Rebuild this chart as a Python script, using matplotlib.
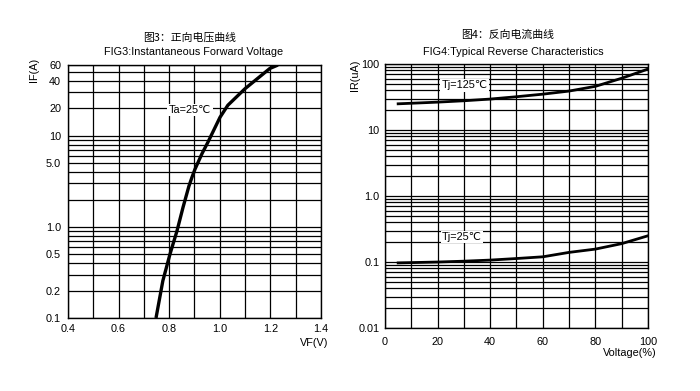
import numpy as np
import matplotlib
matplotlib.use("Agg")
import matplotlib.pyplot as plt
from matplotlib.ticker import FixedLocator, NullFormatter

plt.rcParams['font.family'] = ['Liberation Sans', 'DejaVu Sans', 'Noto Sans CJK SC']
plt.rcParams['font.size'] = 7.8

# FIG3 forward voltage data
vf = [0.748, 0.775, 0.803, 0.831, 0.855, 0.878, 0.890, 0.902, 0.930, 0.953,
      1.001, 1.032, 1.100, 1.198, 1.230]
i_f = [0.1, 0.256, 0.5, 0.906, 1.65, 2.8, 3.5, 4.3, 6.4, 8.5,
       16, 21.7, 33, 55, 60]
if_ticks = [0.1, 0.2, 0.5, 1.0, 5.0, 10, 20, 40, 60]
if_labels = ['0.1', '0.2', '0.5', '1.0', '5.0', '10', '20', '40', '60']
vf_ticks = [0.4, 0.6, 0.8, 1.0, 1.2, 1.4]

# FIG4 reverse characteristics data
v_pct = [5, 20, 30, 40, 50, 60, 70, 80, 90, 100]
ir_125 = [25, 26.5, 27.8, 29.5, 32, 35, 39, 46, 61, 84]
ir_25 = [0.097, 0.1, 0.103, 0.107, 0.113, 0.12, 0.14, 0.157, 0.19, 0.25]
ir_ticks = [0.01, 0.1, 1.0, 10, 100]
ir_labels = ['0.01', '0.1', '1.0', '10', '100']
pct_ticks = [0, 20, 40, 60, 80, 100]

cjk = ['Noto Sans CJK SC', 'DejaVu Sans']
box = dict(facecolor='white', edgecolor='none', pad=1)

fig = plt.figure(figsize=(7, 3.91), dpi=100)
ax1 = fig.add_axes([0.0971, 0.1867, 0.3614, 0.647])
ax2 = fig.add_axes([0.55, 0.1611, 0.3757, 0.675])

# ---- left chart
ax1.set_yscale('log')
ax1.set_xlim(0.4, 1.4)
ax1.set_ylim(0.1, 60)
ax1.set_xticks(vf_ticks)
ax1.set_xticklabels([f'{t:.1f}' for t in vf_ticks])
ax1.xaxis.set_minor_locator(FixedLocator(np.arange(0.5, 1.4, 0.2)))
ax1.set_yticks(if_ticks)
ax1.set_yticklabels(if_labels)
minor1 = [m * d for d in (0.1, 1, 10) for m in range(2, 10) if m * d <= 60]
ax1.yaxis.set_minor_locator(FixedLocator(minor1))
ax1.yaxis.set_minor_formatter(NullFormatter())
ax1.plot(vf, i_f, color='black', lw=2.4, solid_capstyle='butt', solid_joinstyle='round')
ax1.text(0.482, 0.822, 'Ta=25℃', transform=ax1.transAxes, ha='center', va='center', bbox=box)
ax1.text(0.48, 1.107, '图3：正向电压曲线', transform=ax1.transAxes, ha='center', va='center', family=cjk)
ax1.text(0.498, 1.051, 'FIG3:Instantaneous Forward Voltage', transform=ax1.transAxes, ha='center', va='center')
ax1.text(-0.134, 0.98, 'IF(A)', transform=ax1.transAxes, rotation=90, ha='center', va='center')
ax1.text(1.028, -0.099, 'VF(V)', transform=ax1.transAxes, ha='right', va='center')
ax1.tick_params(axis='x', which='both', length=0, pad=4)
ax1.tick_params(axis='y', which='both', length=0, pad=5)

# ---- right chart
ax2.set_yscale('log')
ax2.set_xlim(0, 100)
ax2.set_ylim(0.01, 100)
ax2.set_xticks(pct_ticks)
ax2.xaxis.set_minor_locator(FixedLocator(np.arange(10, 100, 20)))
ax2.set_yticks(ir_ticks)
ax2.set_yticklabels(ir_labels)
minor2 = [m * d for d in (0.01, 0.1, 1, 10) for m in range(2, 10)]
ax2.yaxis.set_minor_locator(FixedLocator(minor2))
ax2.yaxis.set_minor_formatter(NullFormatter())
ax2.plot(v_pct, ir_125, color='black', lw=2.0, solid_joinstyle='round')
ax2.plot(v_pct, ir_25, color='black', lw=2.0, solid_joinstyle='round')
ax2.text(0.304, 0.92, 'Tj=125℃', transform=ax2.transAxes, ha='center', va='center', bbox=box)
ax2.text(0.293, 0.345, 'Tj=25℃', transform=ax2.transAxes, ha='center', va='center', bbox=box)
ax2.text(0.468, 1.11, '图4：反向电流曲线', transform=ax2.transAxes, ha='center', va='center', family=cjk)
ax2.text(0.487, 1.045, 'FIG4:Typical Reverse Characteristics', transform=ax2.transAxes, ha='center', va='center')
ax2.text(-0.114, 0.958, 'IR(uA)', transform=ax2.transAxes, rotation=90, ha='center', va='center')
ax2.text(1.034, -0.095, 'Voltage(%)', transform=ax2.transAxes, ha='right', va='center')
ax2.tick_params(axis='x', which='both', length=0, pad=6.5)
ax2.tick_params(axis='y', which='both', length=0, pad=4)

for ax in (ax1, ax2):
    ax.grid(True, which='both', color='black', lw=0.9)
    ax.set_axisbelow(True)
    for s in ax.spines.values():
        s.set_linewidth(1.0)

fig.savefig('out.png', dpi=100)
